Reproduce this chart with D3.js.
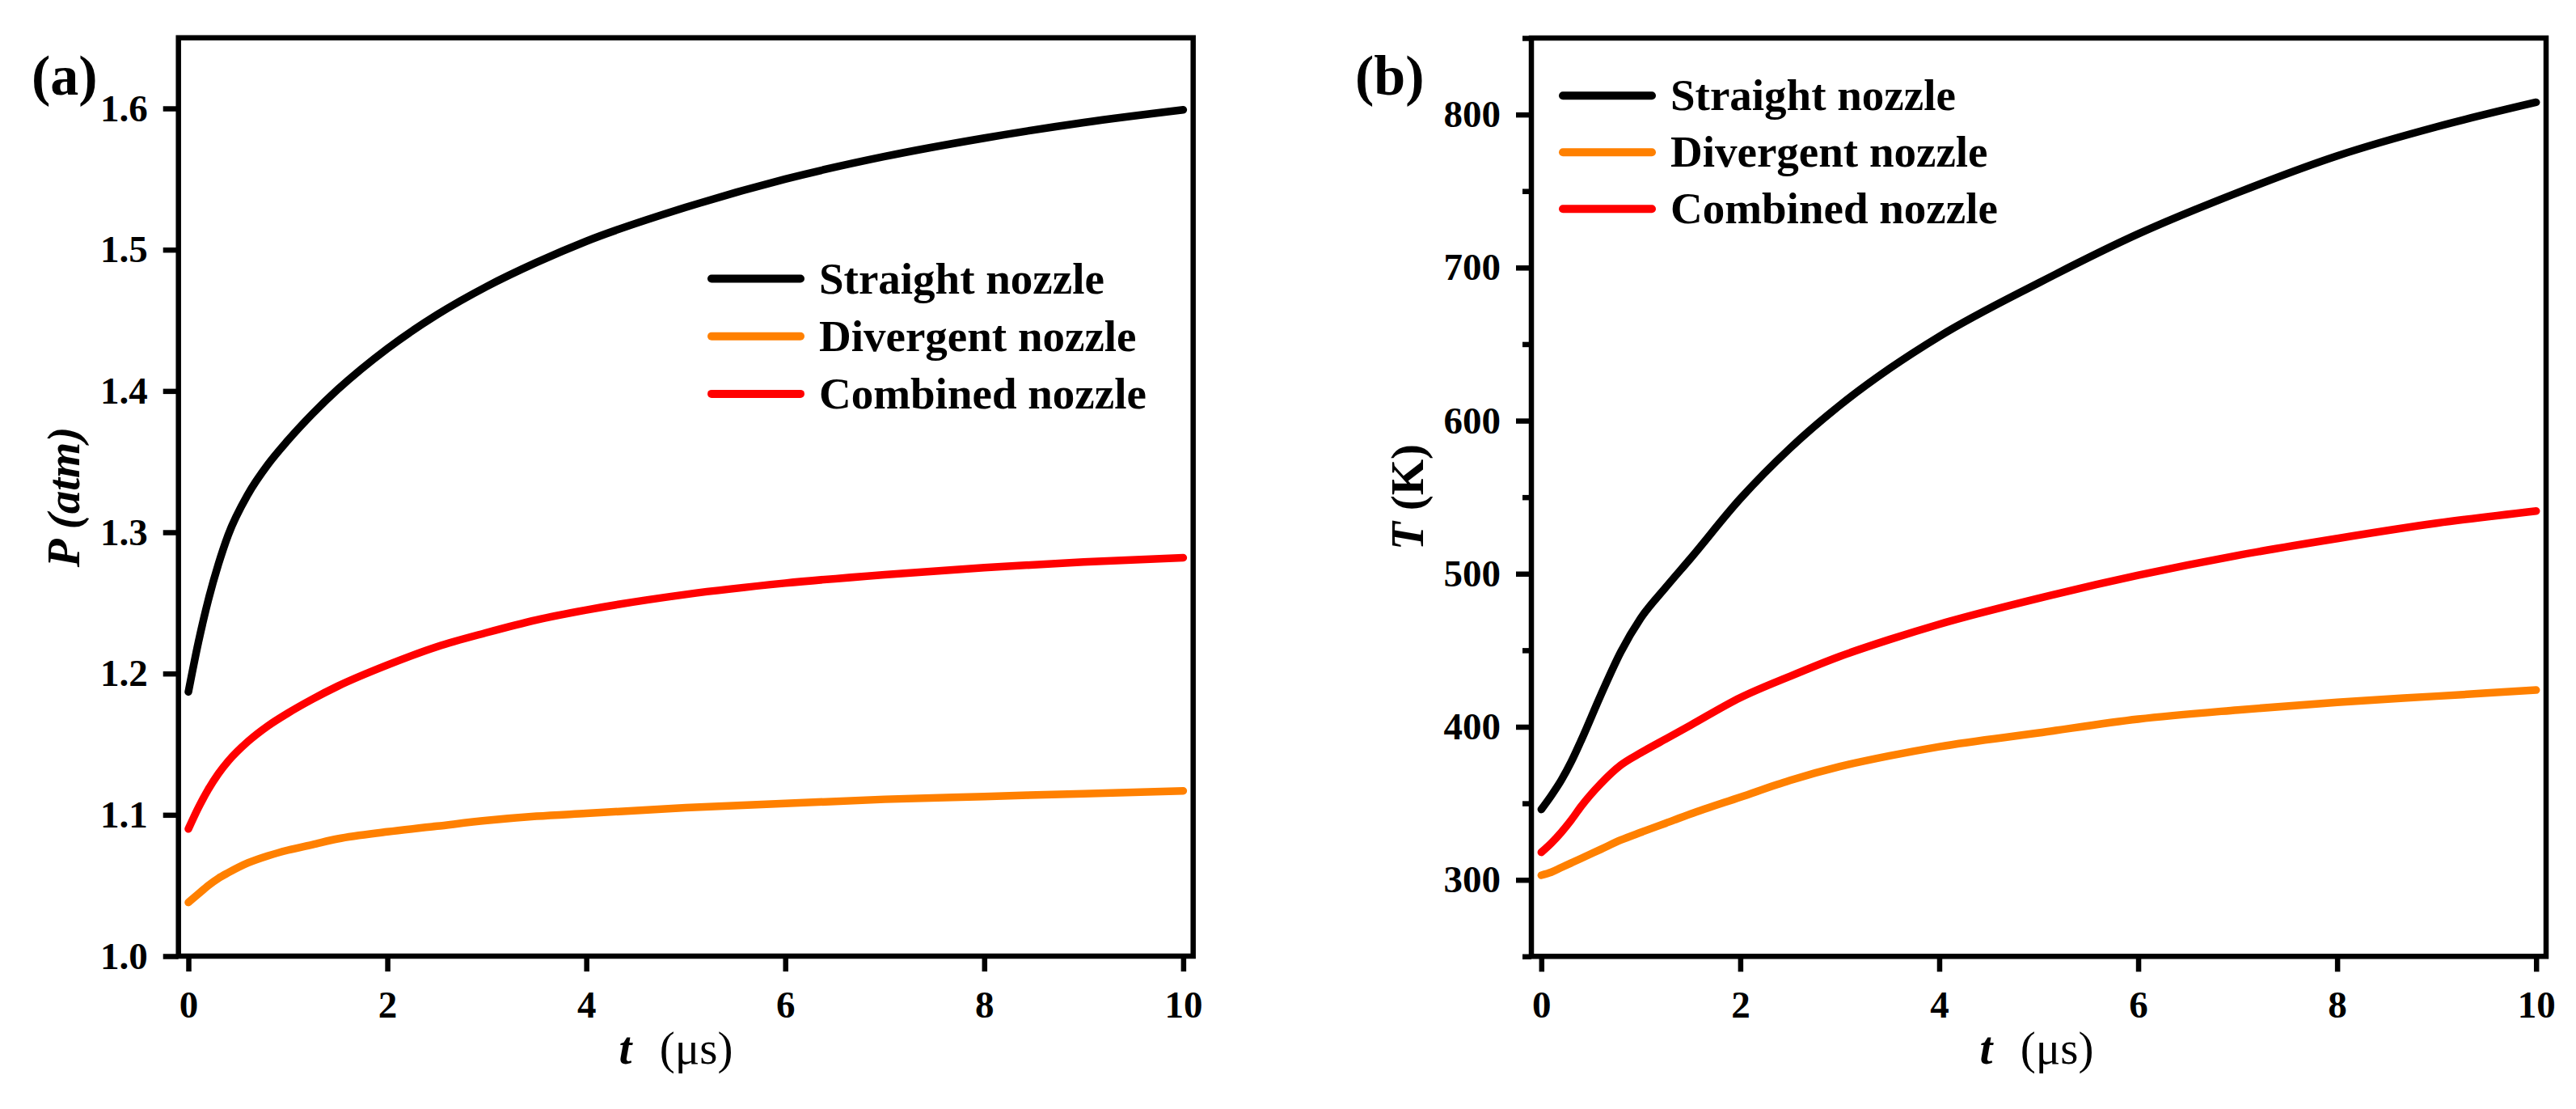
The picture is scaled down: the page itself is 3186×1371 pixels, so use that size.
<!DOCTYPE html>
<html>
<head>
<meta charset="utf-8">
<script src="https://cdn.jsdelivr.net/npm/d3@7"></script>
<style>
    html, body { margin: 0; padding: 0; background: #fff; }
    svg text { font-family: "Liberation Serif", "Times New Roman", serif; font-weight: bold; fill: #000; }
</style>
</head>
<body>
<svg id="chart" width="3186" height="1371"></svg>
<script>
'use strict';

// time axis (µs), shared by every series
var time = [0, 0.1, 0.2, 0.3, 0.4, 0.6, 0.8, 1, 1.25, 1.5, 2, 2.5, 3, 3.5, 4, 5, 6, 7, 8, 9, 10];

// (a) pressure, atm
var straightP   = [1.187, 1.222, 1.252, 1.277, 1.298, 1.327, 1.348, 1.365, 1.384, 1.401, 1.430, 1.454, 1.474, 1.491, 1.506, 1.530, 1.550, 1.566, 1.579, 1.590, 1.599];
var divergentP  = [1.038, 1.044, 1.050, 1.055, 1.059, 1.066, 1.071, 1.075, 1.079, 1.083, 1.088, 1.092, 1.096, 1.099, 1.101, 1.105, 1.108, 1.111, 1.113, 1.115, 1.117];
var combinedP   = [1.090, 1.105, 1.118, 1.129, 1.138, 1.152, 1.163, 1.172, 1.182, 1.191, 1.206, 1.219, 1.229, 1.238, 1.245, 1.256, 1.264, 1.270, 1.275, 1.279, 1.282];

// (b) temperature, K
var straightT   = [346, 355, 365, 377, 391, 421, 449, 471, 491, 510, 549, 582, 610, 634, 655, 690, 722, 749, 773, 792, 808];
var divergentT  = [303, 305, 308, 311, 314, 320, 326, 331, 337, 343, 354, 365, 374, 381, 387, 396, 405, 411, 416, 420, 424];
var combinedT   = [318, 324, 331, 339, 348, 363, 375, 383, 392, 401, 419, 433, 446, 457, 467, 484, 499, 512, 523, 533, 541];

var seriesNames  = ['Straight nozzle', 'Divergent nozzle', 'Combined nozzle'];
var seriesColors = ['#000000', '#ff8000', '#ff0000'];

var timeTicks        = [0, 2, 4, 6, 8, 10];
var pressureTicks    = [1.0, 1.1, 1.2, 1.3, 1.4, 1.5, 1.6];
var temperatureTicks = [300, 400, 500, 600, 700, 800];
var temperatureMinor = [250, 350, 450, 550, 650, 750, 850];

var svg = d3.select('#chart');

function drawPanel(opts) {
    var g = svg.append('g'),
        x = d3.scaleLinear().domain([-0.1, 10.1]).range([opts.left, opts.right]),
        y = d3.scaleLinear().domain(opts.yDomain).range([opts.bottom, opts.top]),
        line = d3.line()
                 .x(function (d) { return x(d[0]); })
                 .y(function (d) { return y(d[1]); })
                 .curve(d3.curveMonotoneX);

    // curves
    opts.series.forEach(function (values, i) {
        g.append('path')
         .datum(time.map(function (t, j) { return [t, values[j]]; }))
         .attr('d', line)
         .attr('fill', 'none')
         .attr('stroke', seriesColors[i])
         .attr('stroke-width', 9.5)
         .attr('stroke-linecap', 'round')
         .attr('stroke-linejoin', 'round');
    });

    // axes
    var xAxis = g.append('g')
                 .attr('transform', 'translate(0,' + opts.bottom + ')')
                 .call(d3.axisBottom(x).tickValues(timeTicks).tickSize(19).tickSizeOuter(0).tickPadding(23.5));

    var yAxis = g.append('g')
                 .attr('transform', 'translate(' + opts.left + ',0)')
                 .call(d3.axisLeft(y).tickValues(opts.yTicks).tickFormat(opts.yFormat)
                                      .tickSize(19).tickSizeOuter(0).tickPadding(19));

    if (opts.minorTicks) {
        g.append('g')
         .attr('transform', 'translate(' + opts.left + ',0)')
         .call(d3.axisLeft(y).tickValues(opts.minorTicks).tickFormat('').tickSize(11).tickSizeOuter(0))
         .call(function (a) { a.select('.domain').remove(); a.selectAll('line').attr('stroke-width', 6.5); });
    }

    [xAxis, yAxis].forEach(function (a) {
        a.select('.domain').remove();
        a.selectAll('line').attr('stroke', '#000').attr('stroke-width', 6.5);
        a.selectAll('text')
         .attr('fill', '#000')
         .style('font-family', '"Liberation Serif", "Times New Roman", serif')
         .style('font-weight', 'bold')
         .style('font-size', '47px');
    });

    // frame
    g.append('rect')
     .attr('x', opts.left)
     .attr('y', opts.top)
     .attr('width', opts.right - opts.left)
     .attr('height', opts.bottom - opts.top)
     .attr('fill', 'none')
     .attr('stroke', '#000')
     .attr('stroke-width', 6.5);

    // legend
    seriesNames.forEach(function (name, i) {
        var ly = opts.legendY + i * opts.legendStep;

        g.append('line')
         .attr('x1', opts.legendX)
         .attr('x2', opts.legendX + 110)
         .attr('y1', ly)
         .attr('y2', ly)
         .attr('stroke', seriesColors[i])
         .attr('stroke-width', 10)
         .attr('stroke-linecap', 'round');

        g.append('text')
         .attr('x', opts.legendX + 133)
         .attr('y', ly + 18)
         .style('font-size', '55px')
         .text(name);
    });

    // panel letter
    g.append('text')
     .attr('x', opts.labelX)
     .attr('y', 117)
     .style('font-size', '70px')
     .text(opts.label);

    // x title
    var xt = g.append('text')
              .attr('x', opts.xTitleX)
              .attr('y', 1315)
              .attr('text-anchor', 'middle')
              .style('font-size', '57px');
    xt.append('tspan').style('font-style', 'italic').text('t');
    xt.append('tspan').attr('dx', 20).style('font-weight', 'normal').text(' (\u03bcs)');

    // y title
    var yt = g.append('text')
              .attr('transform', 'translate(' + opts.yTitleX + ',' + ((opts.top + opts.bottom) / 2) + ') rotate(-90)')
              .attr('text-anchor', 'middle')
              .style('font-size', '57px');
    yt.append('tspan').style('font-style', 'italic').text(opts.yTitle[0]);
    yt.append('tspan').style('font-style', opts.yTitle[2]).text(opts.yTitle[1]);
}

drawPanel({
    left: 220.7, right: 1475.7, top: 46.7, bottom: 1182,
    yDomain: [1.0, 1.65],
    yTicks: pressureTicks,
    yFormat: d3.format('.1f'),
    minorTicks: null,
    series: [straightP, divergentP, combinedP],
    legendX: 880, legendY: 344.5, legendStep: 71.2,
    label: '(a)', labelX: 39,
    xTitleX: 836,
    yTitleX: 98, yTitle: ['P', ' (atm)', 'italic']
});

drawPanel({
    left: 1894, right: 3149, top: 47, bottom: 1182.3,
    yDomain: [250, 850],
    yTicks: temperatureTicks,
    yFormat: d3.format('d'),
    minorTicks: temperatureMinor,
    series: [straightT, divergentT, combinedT],
    legendX: 1933, legendY: 118.3, legendStep: 70,
    label: '(b)', labelX: 1676,
    xTitleX: 2519,
    yTitleX: 1760, yTitle: ['T', ' (K)', 'normal']
});
</script>
</body>
</html>
